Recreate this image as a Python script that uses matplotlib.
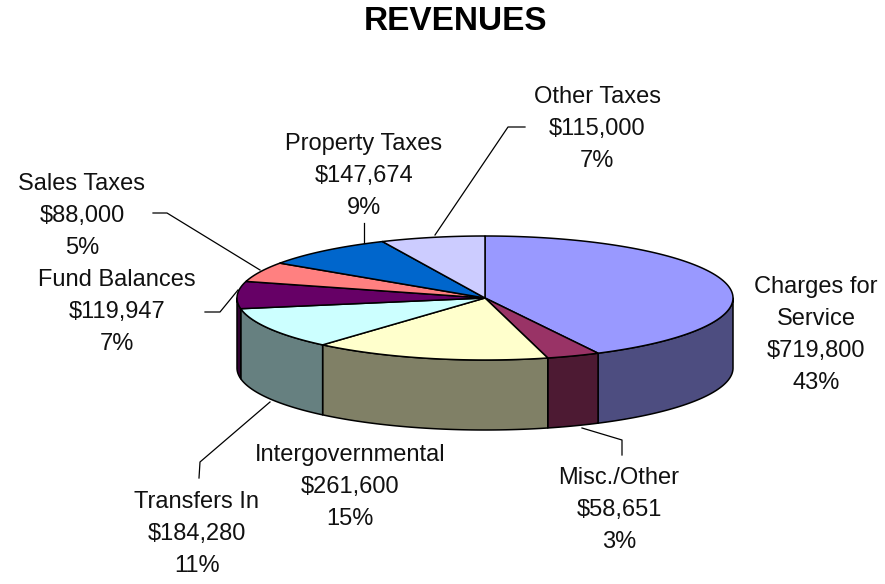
import numpy as np
import matplotlib
matplotlib.use("Agg")
import matplotlib.pyplot as plt
from matplotlib.patches import Polygon

# data
names = ["Charges for\nService", "Misc./Other", "Intergovernmental", "Transfers In",
         "Fund Balances", "Sales Taxes", "Property Taxes", "Other Taxes"]
values = [719800, 58651, 261600, 184280, 119947, 88000, 147674, 115000]
pct_labels = ["43%", "3%", "15%", "11%", "7%", "5%", "9%", "7%"]

top_colors = ["#9999FF", "#993366", "#FFFFCC", "#CCFFFF",
              "#660066", "#FF8080", "#0066CC", "#CCCCFF"]

# pie geometry in pixel space (y down)
CX, CY = 485, 298
RX, RY = 248, 62
DEPTH = 70

# label centres and leader lines (pixel space)
label_pos = [(816, 335), (619, 510), (350, 487), (197, 534),
             (117, 312), (82, 216), (364, 176), (597, 129)]
leaders = [
    None,
    [(582, 428), (622, 440), (622, 455)],
    None,
    [(270, 402), (200, 462), (199, 478)],
    [(238, 290), (220, 312), (205, 312)],
    [(260, 270), (167, 213), (153, 213)],
    [(364, 243), (364, 223)],
    [(435, 235), (508, 127), (525, 127)],
]


def rim(t):
    t = np.radians(t)
    return CX + RX * np.cos(t), CY - RY * np.sin(t)


def darken(c, f=0.5):
    r, g, b = matplotlib.colors.to_rgb(c)
    return (r * f, g * f, b * f)


fig = plt.figure(figsize=(8.85, 5.84), dpi=100)
ax = fig.add_axes([0, 0, 1, 1])
ax.set_xlim(0, 885)
ax.set_ylim(584, 0)
ax.axis("off")

total = float(sum(values))
cum = np.concatenate([[0], np.cumsum(values)]) / total
theta1 = 90 - cum[:-1] * 360
theta2 = 90 - cum[1:] * 360

# side walls (front half only: -180..0 deg)
for i in range(len(values)):
    lo = max(theta2[i], -180)
    hi = min(theta1[i], 0)
    if hi <= lo:
        continue
    t = np.linspace(hi, lo, 120)
    x, y = rim(t)
    pts = np.column_stack([np.concatenate([x, x[::-1]]),
                           np.concatenate([y, (y + DEPTH)[::-1]])])
    ax.add_patch(Polygon(pts, closed=True, facecolor=darken(top_colors[i]),
                         edgecolor="black", linewidth=1.1, joinstyle="round"))

# top faces
for i in range(len(values)):
    t = np.linspace(theta1[i], theta2[i], 200)
    x, y = rim(t)
    pts = np.column_stack([np.concatenate([[CX], x]), np.concatenate([[CY], y])])
    ax.add_patch(Polygon(pts, closed=True, facecolor=top_colors[i],
                         edgecolor="black", linewidth=1.1, joinstyle="round"))

# leader lines
for path in leaders:
    if path is None:
        continue
    xs, ys = zip(*path)
    ax.plot(xs, ys, color="black", linewidth=0.9)

# labels
for i in range(len(values)):
    txt = f"{names[i]}\n${values[i]:,}\n{pct_labels[i]}"
    ax.text(label_pos[i][0], label_pos[i][1], txt, ha="center", va="center",
            fontsize=17, family="Liberation Sans", color="#111111",
            linespacing=1.58)

ax.text(456, 22, "REVENUES", ha="center", va="center", fontsize=24,
        fontweight="bold", family="Liberation Sans", color="black")

fig.savefig("out.png", dpi=100)
